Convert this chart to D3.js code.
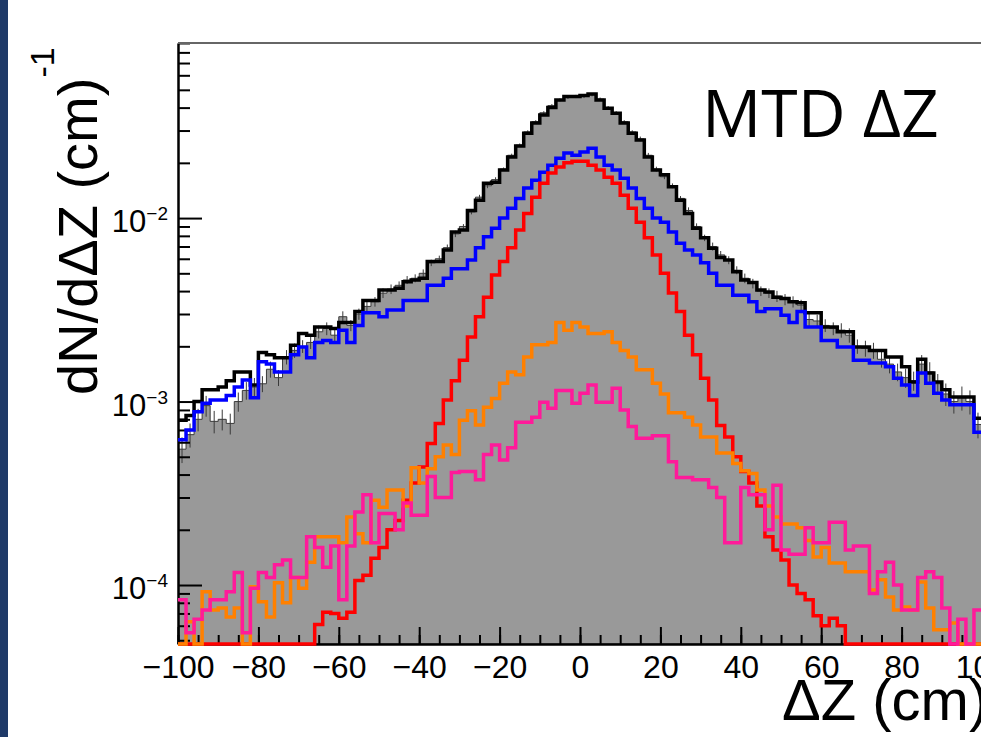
<!DOCTYPE html>
<html>
<head>
<meta charset="utf-8">
<script src="https://cdn.jsdelivr.net/npm/d3@7"></script>
<style>
body { margin: 0; background: #fff; }
text { font-family: "Liberation Sans", Arial, Helvetica, sans-serif; }
</style>
</head>
<body>
<svg width="981" height="737"></svg>
<script>
// histogram binning: 100 bins of 2 cm from -100 to 100
var binWidth = 2;
var binLow = d3.range(-100, 100, binWidth);

// gray filled histogram (with error bars)
var grayVals = [5.5e-4,6.6e-4,8.0e-4,9.5e-4,7.8e-4,8.0e-4,7.6e-4,1.0e-3,1.15e-3,1.2e-3,
  1.25e-3,1.5e-3,1.35e-3,1.75e-3,1.9e-3,2.0e-3,2.1e-3,2.4e-3,2.5e-3,2.3e-3,
  2.9e-3,2.6e-3,3.0e-3,3.3e-3,3.5e-3,3.9e-3,4.1e-3,4.3e-3,4.6e-3,4.7e-3,
  5.0e-3,5.7e-3,6.0e-3,6.9e-3,8.2e-3,9.0e-3,1.08e-2,1.3e-2,1.5e-2,1.62e-2,
  1.85e-2,2.2e-2,2.5e-2,2.95e-2,3.35e-2,3.75e-2,4.1e-2,4.4e-2,4.55e-2,4.6e-2,
  4.6e-2,4.7e-2,4.45e-2,4.0e-2,3.75e-2,3.35e-2,2.95e-2,2.7e-2,2.2e-2,1.85e-2,
  1.68e-2,1.5e-2,1.28e-2,1.1e-2,9.0e-3,7.8e-3,7.0e-3,6.3e-3,5.9e-3,5.2e-3,
  4.7e-3,4.4e-3,4.0e-3,3.9e-3,3.75e-3,3.6e-3,3.5e-3,3.35e-3,2.8e-3,2.75e-3,
  2.6e-3,2.5e-3,2.45e-3,2.3e-3,2.0e-3,1.95e-3,1.9e-3,1.7e-3,1.6e-3,1.45e-3,
  1.35e-3,1.3e-3,1.6e-3,1.45e-3,1.25e-3,1.1e-3,1.0e-3,1.05e-3,1.0e-3,7.5e-4];
var grayRelErr = [0.16,0.15,0.14,0.13,0.14,0.13,0.13,0.12,0.11,0.12,
  0.10,0.10,0.10,0.09,0.09,0.08,0.08,0.08,0.08,0.08,
  0.07,0.07,0.07,0.06,0.06,0.06,0.06,0.05,0.05,0.05,
  0.05,0.04,0.04,0.04,0.04,0.03,0.03,0.03,0.03,0.03,
  0.02,0.02,0.02,0.02,0.02,0.02,0.02,0.02,0.02,0.02,
  0.02,0.02,0.02,0.02,0.02,0.02,0.02,0.03,0.03,0.03,
  0.03,0.03,0.03,0.04,0.04,0.04,0.05,0.05,0.05,0.05,
  0.06,0.06,0.06,0.06,0.07,0.07,0.07,0.07,0.08,0.08,
  0.08,0.08,0.09,0.09,0.09,0.10,0.10,0.10,0.11,0.11,
  0.12,0.12,0.12,0.13,0.13,0.14,0.14,0.15,0.15,0.16];

var blackVals = [7.9e-4,8.4e-4,1.0e-3,1.16e-3,1.16e-3,1.2e-3,1.3e-3,1.45e-3,1.45e-3,1.23e-3,
  1.85e-3,1.8e-3,1.73e-3,1.73e-3,2.03e-3,2.35e-3,2.3e-3,2.55e-3,2.55e-3,2.5e-3,
  2.7e-3,2.7e-3,3.1e-3,3.55e-3,3.55e-3,4.05e-3,4.05e-3,4.15e-3,4.5e-3,4.6e-3,
  4.7e-3,5.8e-3,5.8e-3,6.7e-3,8.4e-3,8.6e-3,1.1e-2,1.25e-2,1.55e-2,1.57e-2,
  1.83e-2,2.15e-2,2.47e-2,2.9e-2,3.3e-2,3.65e-2,4.0e-2,4.4e-2,4.6e-2,4.6e-2,
  4.65e-2,4.75e-2,4.4e-2,3.97e-2,3.73e-2,3.3e-2,2.9e-2,2.66e-2,2.15e-2,1.83e-2,
  1.72e-2,1.48e-2,1.25e-2,1.06e-2,8.8e-3,7.8e-3,6.85e-3,6.1e-3,5.9e-3,5.1e-3,
  4.6e-3,4.45e-3,4.05e-3,3.95e-3,3.7e-3,3.65e-3,3.5e-3,3.45e-3,3.05e-3,3.05e-3,
  2.55e-3,2.55e-3,2.4e-3,2.4e-3,1.98e-3,1.98e-3,1.9e-3,1.9e-3,1.75e-3,1.75e-3,
  1.55e-3,1.28e-3,1.7e-3,1.43e-3,1.28e-3,1.16e-3,1.06e-3,1.06e-3,1.06e-3,8.1e-4];

var blueVals = [6.2e-4,7.0e-4,8.8e-4,9.8e-4,1.02e-3,1.02e-3,1.08e-3,1.2e-3,1.31e-3,1.05e-3,
  1.65e-3,1.6e-3,1.45e-3,1.45e-3,1.8e-3,1.98e-3,1.73e-3,2.1e-3,2.15e-3,2.1e-3,
  2.45e-3,2.1e-3,2.6e-3,3.05e-3,3.05e-3,2.9e-3,3.15e-3,3.15e-3,3.55e-3,3.55e-3,
  3.55e-3,4.3e-3,4.3e-3,4.7e-3,5.3e-3,5.3e-3,5.9e-3,6.9e-3,7.9e-3,8.8e-3,
  1.0e-2,1.13e-2,1.28e-2,1.46e-2,1.61e-2,1.78e-2,1.94e-2,2.12e-2,2.26e-2,2.2e-2,
  2.29e-2,2.4e-2,2.15e-2,1.94e-2,1.83e-2,1.65e-2,1.46e-2,1.28e-2,1.13e-2,1.0e-2,
  9.5e-3,8.4e-3,7.3e-3,6.7e-3,6.3e-3,5.7e-3,5.0e-3,4.3e-3,4.3e-3,3.8e-3,
  3.8e-3,3.5e-3,3.1e-3,3.2e-3,3.2e-3,2.95e-3,2.7e-3,3.1e-3,2.55e-3,2.55e-3,
  2.15e-3,2.15e-3,1.98e-3,1.98e-3,1.68e-3,1.68e-3,1.62e-3,1.62e-3,1.55e-3,1.34e-3,
  1.23e-3,1.08e-3,1.43e-3,1.26e-3,1.11e-3,1.02e-3,9.6e-4,9.6e-4,9.6e-4,6.8e-4];

var redVals = [0,0,0,0,0,0,0,0,0,0,
  0,0,0,0,0,0,0,6.1e-5,7.1e-5,7.0e-5,
  6.6e-5,7.1e-5,1.06e-4,1.13e-4,1.4e-4,1.6e-4,2.0e-4,2.25e-4,2.9e-4,3.6e-4,
  4.4e-4,5.9e-4,7.6e-4,1.02e-3,1.3e-3,1.68e-3,2.25e-3,2.9e-3,3.7e-3,4.9e-3,
  5.8e-3,6.9e-3,8.6e-3,1.06e-2,1.3e-2,1.55e-2,1.76e-2,1.9e-2,2.0e-2,2.04e-2,
  2.04e-2,1.94e-2,1.83e-2,1.67e-2,1.55e-2,1.33e-2,1.13e-2,9.5e-3,7.8e-3,6.3e-3,
  5.0e-3,3.9e-3,3.1e-3,2.3e-3,1.8e-3,1.34e-3,1.02e-3,7.4e-4,6.4e-4,5.0e-4,
  4.15e-4,3.6e-4,2.7e-4,1.83e-4,1.55e-4,1.37e-4,1.0e-4,9.0e-5,8.3e-5,6.8e-5,
  6.0e-5,6.6e-5,6.0e-5,0,0,0,0,0,0,0,
  0,0,0,0,0,0,0,0,0,0];

var orangeVals = [0,6.3e-5,0,9.2e-5,7.3e-5,7.5e-5,6.7e-5,7.5e-5,0,9.8e-5,
  8.1e-5,6.7e-5,1.03e-4,8.0e-5,1.1e-4,9.6e-5,1.33e-4,1.83e-4,1.83e-4,1.83e-4,
  1.7e-4,2.35e-4,1.9e-4,1.7e-4,2.9e-4,2.65e-4,3.3e-4,3.3e-4,2.7e-4,4.35e-4,
  3.6e-4,4.3e-4,5.0e-4,5.8e-4,5.15e-4,7.9e-4,8.9e-4,7.45e-4,9.3e-4,1.04e-3,
  1.26e-3,1.45e-3,1.4e-3,1.75e-3,2.04e-3,2.04e-3,2.1e-3,2.7e-3,2.45e-3,2.7e-3,
  2.55e-3,2.35e-3,2.35e-3,2.4e-3,2.1e-3,1.9e-3,1.75e-3,1.49e-3,1.49e-3,1.26e-3,
  1.1e-3,8.7e-4,8.7e-4,8.2e-4,7.45e-4,6.4e-4,6.4e-4,5.25e-4,5.25e-4,4.6e-4,
  4.2e-4,4.05e-4,3.3e-4,2.7e-4,2.35e-4,2.15e-4,2.15e-4,2.05e-4,1.75e-4,1.42e-4,
  1.6e-4,1.32e-4,1.32e-4,1.18e-4,1.18e-4,1.18e-4,9.4e-5,1.07e-4,8.6e-5,7.3e-5,
  7.6e-5,7.3e-5,1.04e-4,7.5e-5,5.7e-5,5.7e-5,6.2e-5,0,0,0];

var pinkVals = [8.3e-5,5.5e-5,6.5e-5,7.3e-5,8.3e-5,8.3e-5,9.2e-5,1.17e-4,5.5e-5,9.6e-5,
  1.17e-4,1.1e-4,1.29e-4,1.37e-4,1.1e-4,1.1e-4,1.83e-4,1.6e-4,1.25e-4,1.63e-4,
  8.3e-5,1.63e-4,2.5e-4,3.1e-4,1.7e-4,2.45e-4,2.45e-4,2.0e-4,2.8e-4,2.4e-4,
  2.4e-4,3.9e-4,3.0e-4,3.0e-4,4.1e-4,4.15e-4,4.15e-4,3.75e-4,5.15e-4,5.8e-4,
  4.8e-4,5.6e-4,7.7e-4,7.7e-4,8.2e-4,9.9e-4,9.2e-4,1.15e-3,1.15e-3,9.8e-4,
  1.11e-3,1.23e-3,9.9e-4,9.9e-4,1.18e-3,9.0e-4,7.3e-4,6.3e-4,6.3e-4,6.5e-4,
  6.5e-4,4.7e-4,3.85e-4,3.85e-4,3.75e-4,3.75e-4,3.4e-4,3.0e-4,1.7e-4,1.7e-4,
  3.4e-4,3.1e-4,3.1e-4,2.0e-4,3.5e-4,1.55e-4,1.47e-4,1.47e-4,2.05e-4,1.7e-4,
  1.7e-4,2.2e-4,2.2e-4,1.55e-4,1.63e-4,1.63e-4,9.0e-5,1.18e-4,1.33e-4,1.0e-4,
  7.3e-5,7.3e-5,1.1e-4,1.18e-4,1.1e-4,7.5e-5,0,6.5e-5,0,7.3e-5];

var xTickMajor = [-100, -80, -60, -40, -20, 0, 20, 40, 60, 80, 100];
var yTickMajor = [1e-2, 1e-3, 1e-4];
var yTickExp = ["\u22122", "\u22123", "\u22124"];

var svg = d3.select("svg");
// frame of the pad (note: "top" is reserved by the window object)
var pLeft = 178, pRight = 982, pTop = 43, pBottom = 644;
var yMin = 4.77e-5, yMax = 0.09;

var x = d3.scaleLinear().domain([-100, 100]).range([pLeft, pRight]);
var y = d3.scaleLog().domain([yMin, yMax]).range([pBottom, pTop]);

// dark blue slide edge
svg.append("rect").attr("x", 0).attr("y", 0).attr("width", 8).attr("height", 737)
  .attr("fill", "#1f3a68");

svg.append("clipPath").attr("id", "plotclip")
  .append("rect").attr("x", pLeft).attr("y", pTop - 2)
  .attr("width", pRight - pLeft).attr("height", pBottom - pTop + 4);

var plot = svg.append("g").attr("clip-path", "url(#plotclip)");

function stepPoints(vals) {
  var pts = [];
  vals.forEach(function(v, i) {
    var yy = y(Math.max(v, yMin));
    pts.push([x(binLow[i]), yy], [x(binLow[i] + binWidth), yy]);
  });
  return pts;
}

// gray data histogram
var grayPts = stepPoints(grayVals);
grayPts.unshift([pLeft, pBottom]);
grayPts.push([pRight, pBottom]);
plot.append("path")
  .attr("d", d3.line()(grayPts) + "Z")
  .attr("fill", "#999999")
  .attr("stroke", "#3a3a3a")
  .attr("stroke-width", 1);

plot.selectAll(".err")
  .data(grayVals)
  .enter().append("line")
  .attr("class", "err")
  .attr("x1", function(d, i) { return x(binLow[i] + binWidth / 2); })
  .attr("x2", function(d, i) { return x(binLow[i] + binWidth / 2); })
  .attr("y1", function(d, i) { return y(Math.max(d * (1 - grayRelErr[i]), yMin)); })
  .attr("y2", function(d, i) { return y(Math.max(d * (1 + grayRelErr[i]), yMin)); })
  .attr("stroke", "#3a3a3a")
  .attr("stroke-width", 1);

// axes (ROOT style, ticks pointing inward)
var xAxis = svg.append("g").attr("transform", "translate(0," + pBottom + ")");
xAxis.call(d3.axisBottom(x).tickValues(d3.range(-100, 101, 5)).tickSizeInner(-9).tickSizeOuter(0).tickFormat(""));
xAxis.selectAll(".tick line").attr("stroke-width", 2);
var xAxisMajor = svg.append("g").attr("transform", "translate(0," + pBottom + ")");
xAxisMajor.call(d3.axisBottom(x).tickValues(xTickMajor).tickSizeInner(-17).tickSizeOuter(0).tickPadding(11));
xAxisMajor.selectAll(".tick line").attr("stroke-width", 2);
xAxisMajor.selectAll(".tick text").attr("font-size", 32).attr("fill", "#000")
  .style("font-family", "'Liberation Sans', Arial, sans-serif");

var yMinor = [];
[1e-5, 1e-4, 1e-3, 1e-2].forEach(function(dec) {
  for (var k = 2; k <= 9; k++) {
    var v = k * dec;
    if (v >= yMin && v <= yMax) yMinor.push(v);
  }
});
var yAxis = svg.append("g").attr("transform", "translate(" + pLeft + ",0)");
yAxis.call(d3.axisLeft(y).tickValues(yMinor).tickSizeInner(-12).tickSizeOuter(0).tickFormat(""));
yAxis.selectAll(".tick line").attr("stroke-width", 2);
var yAxisMajor = svg.append("g").attr("transform", "translate(" + pLeft + ",0)");
yAxisMajor.call(d3.axisLeft(y).tickValues(yTickMajor).tickSizeInner(-24).tickSizeOuter(0).tickFormat(""));
yAxisMajor.selectAll(".tick line").attr("stroke-width", 2);
svg.selectAll(".domain").attr("stroke-width", 2).attr("stroke", "#000");

yTickMajor.forEach(function(v, i) {
  var t = svg.append("text")
    .attr("x", 168)
    .attr("y", y(v) + 14)
    .attr("text-anchor", "end")
    .attr("font-size", 31);
  t.append("tspan").text("10");
  t.append("tspan").attr("font-size", 19).attr("dy", -12).text(yTickExp[i]);
});

// top frame line
svg.append("line")
  .attr("x1", pLeft).attr("x2", 981).attr("y1", pTop).attr("y2", pTop)
  .attr("stroke", "#666").attr("stroke-width", 2);

// coloured histograms
var lines = [
  { vals: blackVals, color: "#000000" },
  { vals: blueVals, color: "#0000ff" },
  { vals: redVals, color: "#ff0000" },
  { vals: orangeVals, color: "#ff8000" },
  { vals: pinkVals, color: "#ff1a9a" }
];
var linePlot = svg.append("g").attr("clip-path", "url(#plotclip)");
lines.forEach(function(s) {
  linePlot.append("path")
    .attr("d", d3.line()(stepPoints(s.vals)))
    .attr("fill", "none")
    .attr("stroke", s.color)
    .attr("stroke-width", 3.5)
    .attr("stroke-linejoin", "miter");
});

// axis titles
var yt = svg.append("text")
  .attr("transform", "translate(97,395) rotate(-90)")
  .attr("font-size", 56)
  .attr("text-anchor", "start");
yt.append("tspan").text("dN/d\u0394Z (cm)");
yt.append("tspan").attr("font-size", 34).attr("dy", -43).text("-1");

svg.append("text")
  .attr("x", 782).attr("y", 720)
  .attr("font-size", 58)
  .text("\u0394Z (cm)");

svg.append("text")
  .attr("x", 702).attr("y", 137)
  .attr("font-size", 66)
  .style("font-family", "'Open Sans', sans-serif")
  .text("MTD \u0394Z");
</script>
</body>
</html>
